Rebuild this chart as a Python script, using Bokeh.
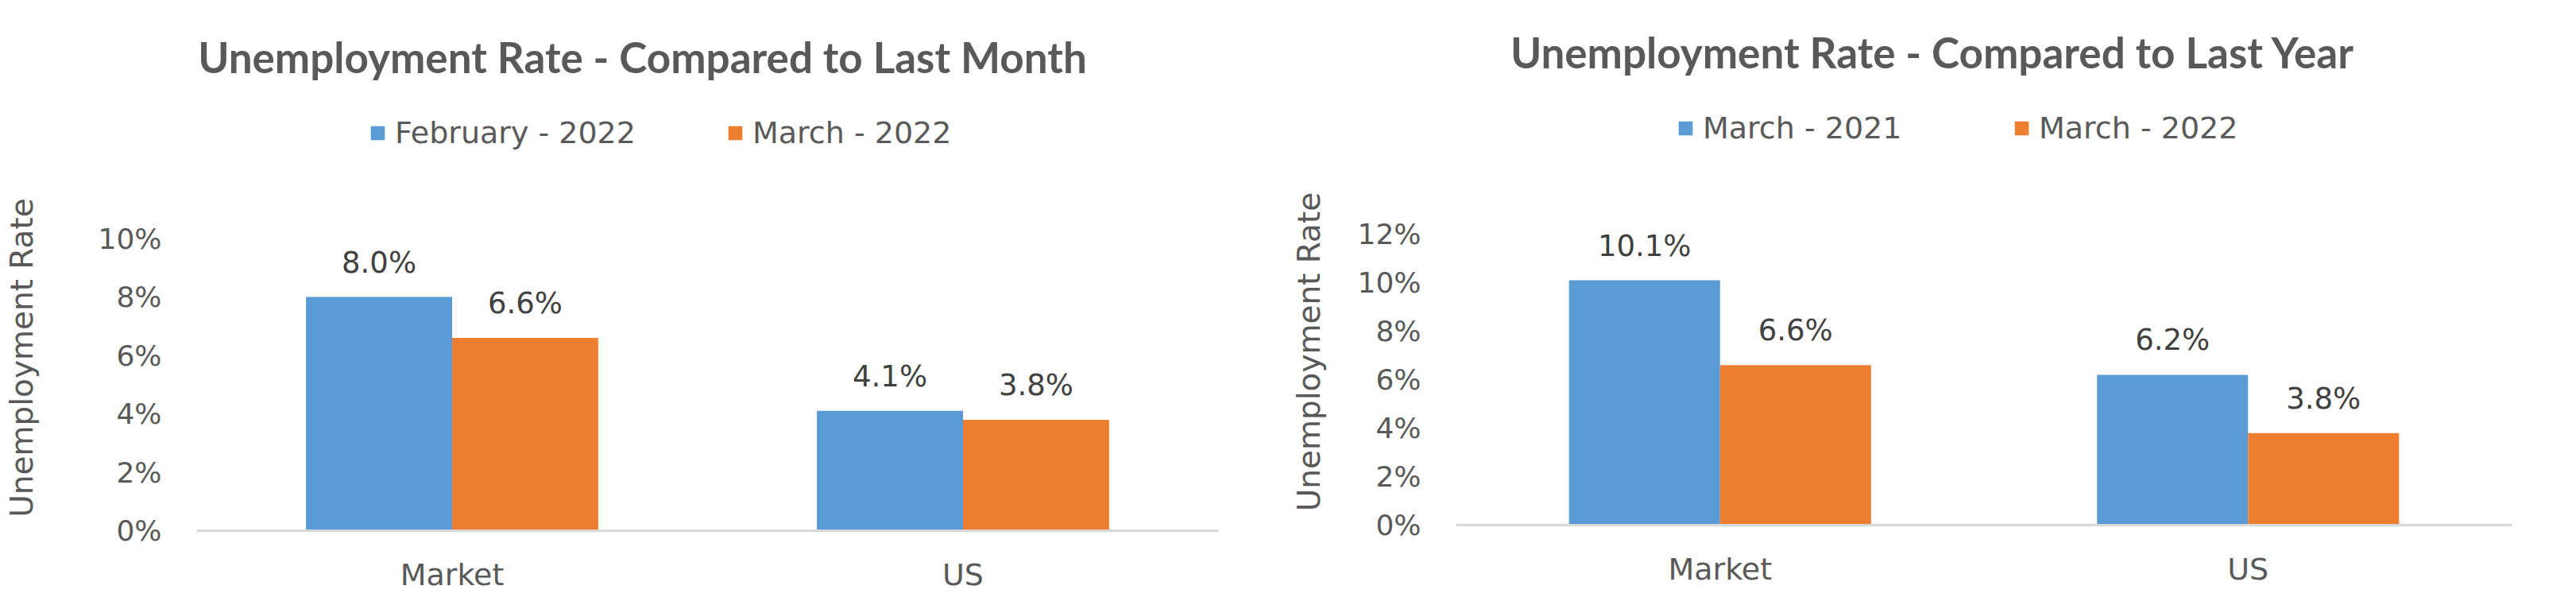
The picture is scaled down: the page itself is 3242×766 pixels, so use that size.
from bokeh.plotting import figure
from bokeh.models import (ColumnDataSource, FactorRange, Range1d, FixedTicker,
                          CustomJSTickFormatter, LabelSet, Label, Legend, LegendItem)
from bokeh.transform import dodge
from bokeh.layouts import row, column
from bokeh.core.properties import value
from bokeh.embed import file_html
from bokeh.resources import INLINE

# ---------------- data ----------------
categories = ["Market", "US"]

month_title = "Unemployment Rate - Compared to Last Month"
month_series = ["February - 2022", "March - 2022"]
feb_2022 = [8.0, 4.1]
mar_2022 = [6.6, 3.8]
month_ticks = [0, 2, 4, 6, 8, 10]

year_title = "Unemployment Rate - Compared to Last Year"
year_series = ["March - 2021", "March - 2022"]
mar_2021 = [10.1, 6.2]
mar_2022_y = [6.6, 3.8]
year_ticks = [0, 2, 4, 6, 8, 10, 12]

y_title = "Unemployment Rate"

# ---------------- style ----------------
BLUE = "#5B9BD5"
ORANGE = "#ED7D31"
GREY = "#595959"
DARK = "#404040"
FONT = "DejaVu Sans"
TFONT = "Lato"


def make_source(s1, s2):
    return ColumnDataSource(dict(
        cat=categories, a=s1, b=s2,
        la=[f"{v:.1f}%" for v in s1],
        lb=[f"{v:.1f}%" for v in s2],
    ))


def make_header(src, title, names, W, H, fl, fr, title_x, title_y, leg_x, leg_y):
    # the header frame is aligned with the chart below, so shift x by its left border
    h = figure(width=W, height=H, x_range=Range1d(0, W), y_range=Range1d(0, H),
               x_axis_type=None, y_axis_type=None,
               output_backend="svg", toolbar_location=None,
               min_border_left=fl, min_border_right=fr,
               min_border_top=0, min_border_bottom=0)
    h.outline_line_color = None
    h.grid.visible = False
    h.background_fill_color = "white"
    h.border_fill_color = "white"
    h.add_layout(Label(x=title_x - fl, y=title_y, x_units="screen", y_units="screen",
                       text=title, text_font=TFONT, text_font_style="bold",
                       text_font_size="53px", text_color=GREY,
                       text_align="center", text_baseline="alphabetic"))
    for name, col, color, lx in ((names[0], "a", BLUE, leg_x[0]),
                                 (names[1], "b", ORANGE, leg_x[1])):
        r = h.vbar(x=col, top=col, width=0.286, source=src,
                   fill_color=color, line_color=None, visible=False)
        leg = Legend(items=[LegendItem(label=name, renderers=[r])],
                     location=(lx - fl, leg_y), orientation="horizontal",
                     glyph_width=22, glyph_height=22, label_standoff=11,
                     padding=0, margin=0, spacing=0,
                     border_line_color=None, background_fill_alpha=0,
                     label_text_font=FONT, label_text_font_size="38px",
                     label_text_color=GREY)
        h.add_layout(leg)
    return h


def make_chart(src, ticks, y_end, W, H, fl, fr, fb, lab_standoff):
    p = figure(width=W, height=H,
               x_range=FactorRange(factors=categories, range_padding=0),
               y_range=Range1d(0, y_end),
               output_backend="svg", toolbar_location=None,
               min_border_left=fl, min_border_right=fr,
               min_border_top=0, min_border_bottom=fb)
    p.background_fill_color = "white"
    p.border_fill_color = "white"
    p.outline_line_color = None
    p.xgrid.visible = False
    p.ygrid.visible = False

    p.vbar(x=dodge("cat", -0.143, range=p.x_range), top="a", bottom=0,
           width=0.286, source=src, fill_color=BLUE, line_color=None)
    p.vbar(x=dodge("cat", 0.143, range=p.x_range), top="b", bottom=0,
           width=0.286, source=src, fill_color=ORANGE, line_color=None)

    for col, lab, off in (("a", "la", -0.143), ("b", "lb", 0.143)):
        p.add_layout(LabelSet(x=dodge("cat", off, range=p.x_range), y=col, text=lab,
                              source=src, y_offset=31, text_align="center",
                              text_baseline="alphabetic",
                              text_font=value(FONT), text_font_size="37px",
                              text_color=DARK))

    p.xaxis.axis_line_color = "#D9D9D9"
    p.xaxis.axis_line_width = 3
    p.xaxis.major_tick_line_color = None
    p.xaxis.minor_tick_line_color = None
    p.xaxis.major_label_standoff = 27
    p.xaxis.major_label_text_font = FONT
    p.xaxis.major_label_text_font_size = "38px"
    p.xaxis.major_label_text_color = GREY

    p.yaxis.ticker = FixedTicker(ticks=ticks)
    p.yaxis.formatter = CustomJSTickFormatter(code="return tick.toFixed(0) + '%';")
    p.yaxis.axis_line_color = None
    p.yaxis.major_tick_line_color = None
    p.yaxis.minor_tick_line_color = None
    p.yaxis.major_label_standoff = 38
    p.yaxis.major_label_text_font = FONT
    p.yaxis.major_label_text_font_size = "36px"
    p.yaxis.major_label_text_color = GREY
    p.yaxis.axis_label = y_title
    p.yaxis.axis_label_standoff = lab_standoff
    p.yaxis.axis_label_text_font = FONT
    p.yaxis.axis_label_text_font_style = "normal"
    p.yaxis.axis_label_text_font_size = "39px"
    p.yaxis.axis_label_text_color = GREY
    return p


src_month = make_source(feb_2022, mar_2022)
src_year = make_source(mar_2021, mar_2022_y)

# left chart: header 232 px tall, plot frame spans y 232..667
left_head = make_header(src_month, month_title, month_series, W=1620, H=232,
                        fl=247, fr=87, title_x=808, title_y=161,
                        leg_x=(464, 914), leg_y=43)
left_chart = make_chart(src_month, month_ticks, y_end=11.84,
                        W=1620, H=534, fl=247, fr=87, fb=99, lab_standoff=70)

# right chart: header 224 px tall, plot frame spans y 224..660
right_head = make_header(src_year, year_title, year_series, W=1622, H=224,
                         fl=212, fr=81, title_x=812, title_y=159,
                         leg_x=(490, 913), leg_y=41)
right_chart = make_chart(src_year, year_ticks, y_end=14.3,
                         W=1622, H=542, fl=212, fr=81, fb=106, lab_standoff=35)

layout = row(column(left_head, left_chart, spacing=0),
             column(right_head, right_chart, spacing=0), spacing=0)
open("out.html", "w").write(file_html(layout, INLINE))
